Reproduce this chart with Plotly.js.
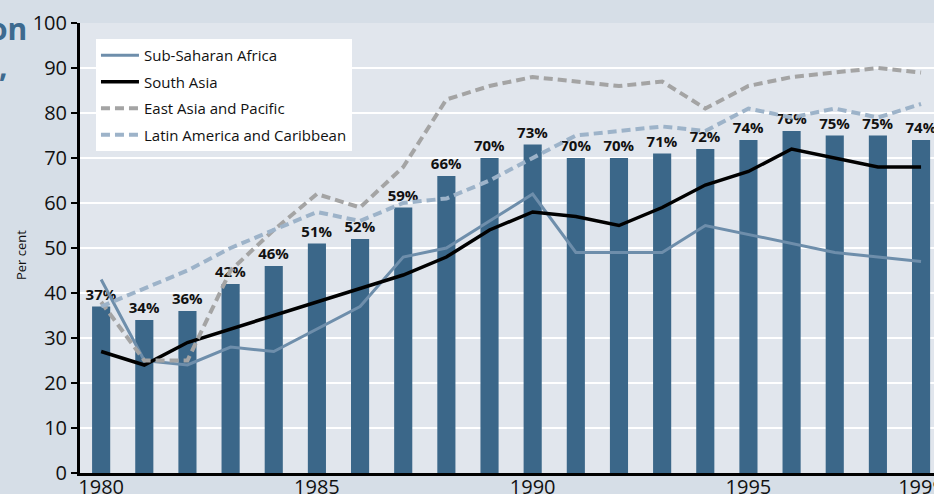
<!DOCTYPE html>
<html>
<head>
<meta charset="utf-8">
<script src="https://cdn.plot.ly/plotly-3.0.1.min.js"></script>
<style>
  html, body { margin: 0; padding: 0; overflow: hidden; background: #d6dee7; }
  #chart { width: 934px; height: 494px; }
</style>
</head>
<body>
<div id="chart"></div>
<script>
// ---- data ----
const years = [1980, 1981, 1982, 1983, 1984, 1985, 1986, 1987, 1988, 1989,
               1990, 1991, 1992, 1993, 1994, 1995, 1996, 1997, 1998, 1999];
const coverage = [37, 34, 36, 42, 46, 51, 52, 59, 66, 70, 73, 70, 70, 71, 72, 74, 76, 75, 75, 74];
const subSaharanAfrica = [43, 25, 24, 28, 27, 32, 37, 48, 50, 56, 62, 49, 49, 49, 55, 53, 51, 49, 48, 47];
const southAsia = [27, 24, 29, 32, 35, 38, 41, 44, 48, 54, 58, 57, 55, 59, 64, 67, 72, 70, 68, 68];
const eastAsiaPacific = [38, 25, 25, 45, 54, 62, 59, 68, 83, 86, 88, 87, 86, 87, 81, 86, 88, 89, 90, 89];
const latinAmerica = [37, 41, 45, 50, 54, 58, 56, 60, 61, 65, 70, 75, 76, 77, 76, 81, 79, 81, 79, 82];
const seriesNames = ['Sub-Saharan Africa', 'South Asia', 'East Asia and Pacific', 'Latin America and Caribbean'];
const xTickVals = [1980, 1985, 1990, 1995, 1999];
const xTickText = ['1980', '1985', '1990', '1995', '1999'];

const FONT = 'Open Sans, Noto Sans, sans-serif';

const traces = [
  {
    type: 'bar', x: years, y: coverage, width: 0.42,
    marker: { color: '#3b6789' },
    texttemplate: '%{y}%', textposition: 'outside', constraintext: 'none',
    textfont: { family: FONT, size: 15, color: '#111111', weight: 700 },
    cliponaxis: false, showlegend: false, hoverinfo: 'skip'
  },
  {
    type: 'scatter', mode: 'lines', name: seriesNames[0], legendgroup: 'a',
    x: years, y: subSaharanAfrica,
    line: { color: '#6e8eab', width: 3 }
  },
  {
    type: 'scatter', mode: 'lines', name: seriesNames[1], legendgroup: 'b',
    x: years, y: southAsia,
    line: { color: '#000000', width: 3.5 }
  },
  {
    type: 'scatter', mode: 'lines', name: seriesNames[2], legendgroup: 'c',
    x: years, y: eastAsiaPacific,
    line: { color: '#a4a4a4', width: 4, dash: '9px,5px' }
  },
  {
    type: 'scatter', mode: 'lines', name: seriesNames[3], legendgroup: 'd',
    x: years, y: latinAmerica,
    line: { color: '#9db3c9', width: 4, dash: '9px,5px' }
  }
];

const layout = {
  width: 934, height: 494,
  margin: { l: 80, r: 0, t: 23, b: 21, pad: 0 },
  paper_bgcolor: '#d6dee7',
  plot_bgcolor: '#e1e6ed',
  font: { family: FONT, color: '#111111' },
  showlegend: true,
  legend: {
    x: 0.0187, y: 0.9644, xanchor: 'left', yanchor: 'top',
    bgcolor: '#ffffff', borderwidth: 0,
    font: { family: FONT, size: 15, color: '#111111' },
    traceorder: 'grouped', tracegroupgap: 4, itemwidth: 38
  },
  xaxis: {
    range: [1979.51, 1999.3],
    tickmode: 'array', tickvals: xTickVals, ticktext: xTickText,
    ticks: '', showgrid: false, zeroline: false,
    showline: true, linecolor: '#000000', linewidth: 3,
    tickfont: { family: FONT, size: 20, color: '#111111' },
    ticklabelstandoff: -6, ticklabeloverflow: 'allow',
    fixedrange: true
  },
  yaxis: {
    range: [0, 100], dtick: 10, tick0: 0,
    ticks: 'outside', ticklen: 6, tickwidth: 2, tickcolor: '#000000',
    showline: true, linecolor: '#000000', linewidth: 3,
    showgrid: true, gridcolor: '#ffffff', gridwidth: 2, zeroline: false,
    tickfont: { family: FONT, size: 20, color: '#111111' },
    fixedrange: true
  },
  annotations: [
    { xref: 'paper', yref: 'paper', x: -0.0691, y: 0.4844, text: 'Per cent',
      textangle: -90, showarrow: false, xanchor: 'center', yanchor: 'middle',
      font: { family: FONT, size: 13, color: '#111111' } },
    { xref: 'paper', yref: 'paper', x: (29 - 80) / 854, y: (473 - 29) / 450, text: 'on',
      showarrow: false, xanchor: 'right', yanchor: 'middle',
      font: { family: 'Liberation Sans Narrow, Open Sans, sans-serif', size: 30, color: '#3d6a8f', weight: 700 } },
    { xref: 'paper', yref: 'paper', x: (10 - 80) / 854, y: (473 - 66) / 450, text: ',',
      showarrow: false, xanchor: 'right', yanchor: 'middle',
      font: { family: 'Liberation Sans Narrow, Open Sans, sans-serif', size: 30, color: '#3d6a8f', weight: 700 } }
  ]
};

Plotly.newPlot('chart', traces, layout, { staticPlot: true, displayModeBar: false });
</script>
</body>
</html>
